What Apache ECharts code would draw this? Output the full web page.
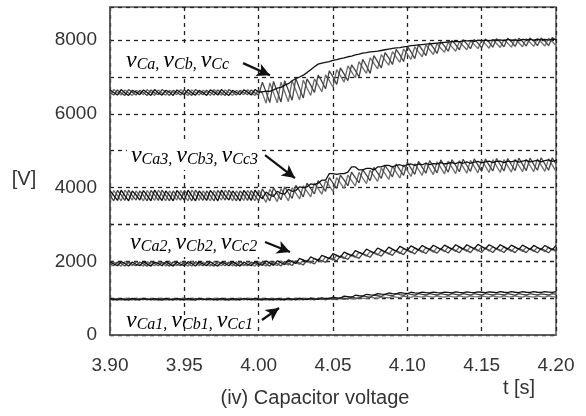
<!DOCTYPE html>
<html><head><meta charset="utf-8">
<script src="https://cdn.jsdelivr.net/npm/echarts@6/dist/echarts.min.js"></script>
<style>html,body{margin:0;padding:0;background:#fff}#c{width:586px;height:416px}</style>
</head><body><div id="c"></div>
<script>
// sample time base of the traces (s)
const T_START = 3.90, T_STEP = 0.0025;
const xMin = 3.90, xMax = 4.20, xStep = 0.05;
const yMin = 0, yMax = 8900, yGrid = 1000, yLabelStep = 2000;

// ---- level 4 : vCa, vCb, vCc (V) ----
const vCa = [6650,6580,6510,6660,6570,6500,6640,6590,6520,6650,
6580,6500,6660,6570,6510,6640,6590,6500,6650,6580,
6520,6660,6570,6510,6640,6580,6500,6650,6590,6510,
6660,6570,6500,6640,6580,6520,6650,6590,6510,6660,
6590,
6600,6620,6610,6650,6700,6720,6780,6820,6900,6960,
7000,7050,7120,7200,7280,7350,7380,7400,7420,7450,
7470,7500,7520,7550,7570,7600,7620,7650,7660,7680,
7690,7700,7720,7740,7760,7780,7790,7800,7820,7830,
7850,7860,7870,7880,7890,7900,7910,7920,7930,7940,
7950,7960,7970,7960,7980,7980,7990,7970,8000,7990,
8000,7980,8010,8000,8010,7990,8020,8000,8010,7990,
8020,8010,8020,8000,8030,8010,8020,8000,8030,8020];
const vCb = [6580,6510,6650,6570,6500,6660,6590,6510,6640,6580,
6500,6650,6570,6520,6660,6590,6500,6640,6580,6510,
6650,6570,6500,6660,6590,6520,6640,6580,6510,6650,
6570,6500,6660,6590,6510,6640,6580,6520,6650,6570,
6510,
6860,6590,6310,6880,6600,6320,6900,6640,6370,6960,
6690,6430,6950,6780,6580,7050,6880,6680,7170,7000,
6800,7250,7080,6900,7330,7180,7000,7480,7300,7100,
7580,7420,7250,7660,7520,7340,7750,7600,7420,7830,
7680,7500,7880,7740,7580,7930,7800,7640,7960,7840,
7700,7990,7880,7740,8010,7900,7770,8020,7920,7790,
8030,7940,7810,8040,7950,7820,8050,7960,7830,8050,
7970,7840,8060,7980,7850,8060,7980,7850,8070,7990];
const vCc = [6500,6660,6580,6510,6650,6570,6500,6640,6590,6520,
6660,6580,6500,6650,6570,6510,6640,6590,6520,6660,
6570,6500,6650,6580,6510,6640,6590,6500,6660,6570,
6510,6650,6580,6500,6640,6590,6520,6660,6570,6500,
6650,
6560,6290,6840,6570,6300,6860,6600,6330,6900,6640,
6380,6920,6700,6500,6950,6780,6600,7060,6900,6730,
7200,7030,6860,7300,7140,6980,7420,7250,7100,7520,
7370,7220,7610,7460,7320,7690,7540,7400,7760,7620,
7480,7820,7680,7550,7870,7740,7610,7910,7780,7670,
7940,7820,7700,7960,7850,7740,7980,7880,7770,8000,
7900,7780,8010,7910,7800,8020,7920,7810,8030,7930,
7820,8040,7940,7830,8040,7950,7840,8050,7960,7850];

// ---- level 3 : vCa3, vCb3, vCc3 ----
const vCa3 = [3920,3790,3650,3930,3780,3640,3910,3800,3660,3920,
3790,3640,3930,3780,3650,3910,3790,3640,3920,3800,
3660,3930,3780,3640,3910,3790,3650,3920,3800,3640,
3930,3780,3660,3910,3790,3640,3920,3800,3650,3930,
3790,
3700,3880,3800,3760,3900,3840,3820,3950,3900,3920,
4020,4000,4020,4100,4080,4120,4200,4200,4380,4380,
4360,4380,4380,4420,4560,4560,4480,4480,4520,4520,
4480,4560,4560,4600,4600,4560,4600,4620,4580,4620,
4640,4600,4640,4620,4660,4620,4650,4640,4680,4640,
4660,4680,4650,4690,4660,4700,4660,4690,4710,4670,
4700,4720,4680,4710,4720,4680,4720,4700,4730,4690,
4720,4740,4700,4720,4740,4700,4730,4750,4710,4740];
const vCb3 = [3790,3640,3920,3800,3650,3930,3780,3660,3910,3790,
3640,3920,3800,3650,3930,3790,3640,3910,3780,3660,
3920,3800,3640,3930,3790,3650,3910,3780,3640,3920,
3800,3660,3930,3790,3640,3910,3800,3650,3920,3780,
3640,
3960,3800,3640,3990,3830,3670,4020,3860,3710,4060,
3910,3750,4120,3970,3830,4190,4050,3900,4270,4120,
3980,4340,4200,4050,4420,4270,4130,4490,4340,4190,
4550,4400,4250,4600,4450,4290,4640,4480,4330,4680,
4520,4360,4710,4550,4390,4730,4570,4400,4750,4580,
4420,4760,4600,4430,4770,4600,4440,4780,4610,4440,
4780,4610,4450,4790,4620,4450,4790,4620,4460,4800,
4630,4460,4800,4630,4470,4810,4640,4470,4810,4640];
const vCc3 = [3650,3920,3790,3640,3930,3800,3660,3910,3780,3640,
3920,3790,3650,3930,3800,3640,3910,3790,3660,3920,
3780,3640,3930,3800,3650,3910,3790,3640,3920,3780,
3660,3930,3800,3640,3910,3790,3650,3920,3800,3640,
3930,
3770,3600,3950,3790,3620,3970,3805,3640,4000,3850,
3690,4050,3900,3750,4120,3970,3820,4190,4050,3900,
4270,4120,3980,4340,4190,4040,4410,4260,4110,4470,
4320,4170,4530,4380,4220,4580,4420,4260,4620,4460,
4300,4650,4490,4330,4680,4520,4350,4700,4540,4370,
4720,4550,4380,4730,4560,4390,4740,4570,4400,4750,
4580,4410,4760,4585,4410,4760,4590,4420,4770,4600,
4430,4770,4600,4430,4780,4610,4440,4780,4610,4440];

// ---- level 2 : vCa2, vCb2, vCc2 ----
const vCa2 = [1980,1930,1880,1990,1940,1870,1980,1920,1880,1990,
1930,1870,1980,1940,1880,1990,1930,1870,1980,1920,
1880,1990,1940,1870,1980,1930,1880,1990,1920,1870,
1980,1940,1880,1990,1930,1870,1980,1920,1880,1990,
1930,
1890,2010,1950,1890,2010,1960,1910,2040,1990,1940,
2080,2030,1980,2120,2070,2020,2160,2120,2070,2210,
2160,2110,2250,2200,2150,2290,2240,2200,2330,2280,
2230,2360,2310,2260,2385,2330,2280,2405,2350,2300,
2420,2365,2310,2430,2370,2320,2435,2380,2320,2440,
2385,2330,2450,2390,2330,2450,2395,2340,2460,2400,
2340,2450,2395,2335,2450,2390,2330,2440,2385,2325,
2440,2380,2320,2430,2375,2315,2430,2370,2310,2430];
const vCb2 = [1930,1880,1980,1940,1870,1990,1920,1880,1980,1930,
1870,1990,1940,1880,1980,1930,1870,1990,1920,1880,
1980,1940,1870,1990,1930,1880,1980,1920,1870,1990,
1940,1880,1980,1930,1870,1990,1920,1880,1980,1940,
1880,
1990,1930,1870,1995,1935,1875,2000,1940,1885,2010,
1955,1900,2030,1980,1930,2060,2015,1970,2105,2060,
2010,2145,2100,2050,2180,2130,2080,2210,2160,2110,
2240,2190,2140,2265,2215,2160,2290,2235,2180,2310,
2255,2200,2325,2270,2210,2335,2275,2220,2340,2285,
2225,2350,2290,2230,2355,2295,2235,2360,2300,2240,
2360,2300,2240,2355,2300,2240,2355,2295,2235,2350,
2295,2235,2350,2290,2230,2350,2290,2230,2345,2290];
const vCc2 = [1880,1980,1930,1870,1990,1940,1880,1980,1920,1870,
1990,1930,1880,1980,1940,1870,1990,1920,1880,1980,
1930,1870,1990,1940,1880,1980,1920,1870,1990,1930,
1880,1980,1940,1870,1990,1920,1880,1980,1930,1870,
1990,
1930,1870,1995,1935,1880,2005,1950,1895,2020,1965,
1915,2040,1995,1950,2080,2030,1985,2120,2075,2030,
2160,2115,2070,2200,2155,2105,2240,2190,2140,2270,
2220,2170,2300,2245,2190,2320,2265,2210,2340,2290,
2230,2355,2300,2240,2370,2310,2250,2380,2320,2260,
2385,2325,2265,2390,2330,2270,2395,2335,2275,2400,
2340,2280,2395,2335,2275,2390,2330,2270,2385,2325,
2265,2385,2325,2265,2380,2320,2260,2380,2320,2260];

// ---- level 1 : vCa1, vCb1, vCc1 ----
const vCa1 = [990,970,950,990,965,945,995,970,950,990,
975,950,990,970,945,995,965,950,990,970,
950,995,970,945,990,975,950,990,965,950,
995,970,945,990,970,950,990,975,950,995,
970,
950,990,970,950,990,970,950,995,972,955,
1000,975,960,1000,978,965,1010,990,980,1030,
1010,1000,1055,1040,1025,1080,1065,1055,1105,1090,
1080,1125,1110,1100,1140,1125,1115,1150,1135,1125,
1160,1145,1135,1165,1150,1140,1165,1150,1145,1165,
1155,1145,1170,1155,1145,1170,1155,1150,1170,1160,
1150,1170,1160,1150,1175,1160,1150,1175,1160,1150,
1175,1160,1155,1175,1160,1155,1175,1165,1155,1175];
const vCb1 = [970,950,990,965,945,995,970,950,990,975,
950,990,970,945,995,965,950,990,970,950,
995,970,945,990,975,950,990,965,950,995,
970,945,990,970,950,990,975,950,995,970,
950,
990,970,950,990,970,950,990,970,950,995,
972,950,995,975,952,1000,978,955,1005,980,
960,1015,990,975,1035,1010,995,1060,1040,1020,
1085,1065,1045,1105,1080,1065,1120,1095,1075,1125,
1100,1080,1125,1100,1085,1125,1100,1085,1120,1100,
1085,1120,1100,1085,1122,1100,1083,1120,1102,1085,
1120,1100,1085,1118,1100,1085,1120,1102,1084,1120,
1100,1085,1120,1100,1086,1118,1100,1085,1120,1100];
const vCc1 = [950,990,970,945,995,965,950,990,975,950,
990,970,945,995,970,950,990,965,950,995,
970,945,990,975,950,990,970,950,995,965,
950,990,970,945,990,975,950,995,970,945,
990,
970,950,990,970,950,990,970,952,990,970,
955,990,972,955,992,975,958,995,978,962,
1000,982,968,1008,990,975,1015,998,985,1025,
1008,995,1035,1018,1005,1045,1028,1015,1052,1035,
1022,1058,1040,1028,1060,1042,1030,1060,1042,1030,
1060,1042,1030,1062,1044,1030,1060,1042,1032,1060,
1044,1030,1062,1042,1030,1060,1044,1032,1060,1042,
1030,1062,1044,1030,1060,1042,1030,1062,1044,1030];

// annotation anchors in data coordinates [t, V]
const labelText = [
  '{v|v}{s|Ca}{s|, }{v|v}{s|Cb}{s|, }{v|v}{s|Cc}',
  '{v|v}{s|Ca3}{s|, }{v|v}{s|Cb3}{s|, }{v|v}{s|Cc3}',
  '{v|v}{s|Ca2}{s|, }{v|v}{s|Cb2}{s|, }{v|v}{s|Cc2}',
  '{v|v}{s|Ca1}{s|, }{v|v}{s|Cb1}{s|, }{v|v}{s|Cc1}'
];
const labelAt = [[3.9081, 7458], [3.9114, 4882], [3.9108, 2522], [3.9081, 407]];
const labelBox = [true, true, true, false];
const arrowFrom = [[3.9895, 7377], [4.0043, 4882], [4.0043, 2522], [4.0022, 407]];
const arrowTo   = [[4.0076, 7051], [4.0244, 4258], [4.0211, 2251], [4.0137, 732]];

const groups = [[vCa, vCb, vCc], [vCa3, vCb3, vCc3], [vCa2, vCb2, vCc2], [vCa1, vCb1, vCc1]];
const names = [['vCa','vCb','vCc'],['vCa3','vCb3','vCc3'],['vCa2','vCb2','vCc2'],['vCa1','vCb1','vCc1']];
const phaseColor = ['#111111', '#444444', '#6e6e6e'];

function toPairs(vals) {
  return vals.map((v, i) => [+(T_START + i * T_STEP).toFixed(4), v]);
}

const series = [];
groups.forEach((g, gi) => {
  g.forEach((vals, pi) => {
    series.push({
      name: names[gi][pi], type: 'line', data: toPairs(vals),
      showSymbol: false, symbol: 'none', silent: true, animation: false,
      z: 5 - pi,
      lineStyle: { color: phaseColor[pi], width: 1.3 }
    });
  });
});
series.push({
  type: 'line', data: [], silent: true, animation: false,
  markLine: {
    silent: true, animation: false, symbol: ['none', 'arrow'], symbolSize: [10, 13],
    label: { show: false },
    lineStyle: { color: '#111', width: 2.2, type: 'solid' },
    emphasis: { disabled: true },
    data: arrowFrom.map((a, i) => [{ coord: a }, { coord: arrowTo[i] }])
  }
});

const chart = echarts.init(document.getElementById('c'), null, { renderer: 'canvas' });
const FONT = 'Liberation Sans, Arial, sans-serif';
chart.setOption({
  animation: false,
  backgroundColor: '#fff',
  grid: { left: 110, right: 30, top: 7, bottom: 81, show: true, borderColor: '#555', borderWidth: 1.5 },
  xAxis: {
    type: 'value', min: xMin, max: xMax, interval: xStep,
    axisLine: { show: true, onZero: false, lineStyle: { color: '#555', width: 1.5 } },
    axisTick: { show: false },
    axisLabel: { formatter: v => v.toFixed(2), fontSize: 19, color: '#333', margin: 21, fontFamily: FONT },
    splitLine: { show: true, lineStyle: { type: [4, 4], color: '#222', width: 1.3 } }
  },
  yAxis: {
    type: 'value', min: yMin, max: yMax, interval: yGrid,
    axisLine: { show: true, lineStyle: { color: '#555', width: 1.5 } },
    axisTick: { show: false },
    axisLabel: { formatter: v => (v % yLabelStep === 0 ? String(v) : ''), fontSize: 19, color: '#333', margin: 13, fontFamily: FONT },
    splitLine: { show: true, lineStyle: { type: [4, 4], color: '#222', width: 1.3 } }
  },
  series: series
});

const rich = {
  v: { fontFamily: 'Liberation Serif, serif', fontStyle: 'italic', fontSize: 24, lineHeight: 26, verticalAlign: 'bottom', color: '#222' },
  s: { fontFamily: 'Liberation Serif, serif', fontStyle: 'italic', fontSize: 16, lineHeight: 12, verticalAlign: 'bottom', color: '#222' }
};
const graphics = labelText.map((txt, i) => {
  const p = chart.convertToPixel({ gridIndex: 0 }, labelAt[i]);
  return {
    type: 'text', x: p[0], y: p[1], z: 100,
    style: {
      text: txt, rich: rich, align: 'left', verticalAlign: 'middle',
      backgroundColor: labelBox[i] ? '#fff' : 'transparent', padding: [2, 4, 2, 4]
    }
  };
});
graphics.push(
  { type: 'text', x: 24, y: 179, z: 100, style: { text: '[V]', font: '20px ' + FONT, fill: '#333', align: 'center', verticalAlign: 'middle' } },
  { type: 'text', x: 519, y: 388, z: 100, style: { text: 't [s]', font: '20px ' + FONT, fill: '#333', align: 'center', verticalAlign: 'middle' } },
  { type: 'text', x: 315, y: 398, z: 100, style: { text: '(iv) Capacitor voltage', font: '20px ' + FONT, fill: '#333', align: 'center', verticalAlign: 'middle' } }
);
chart.setOption({ graphic: graphics });
</script>
</body></html>
